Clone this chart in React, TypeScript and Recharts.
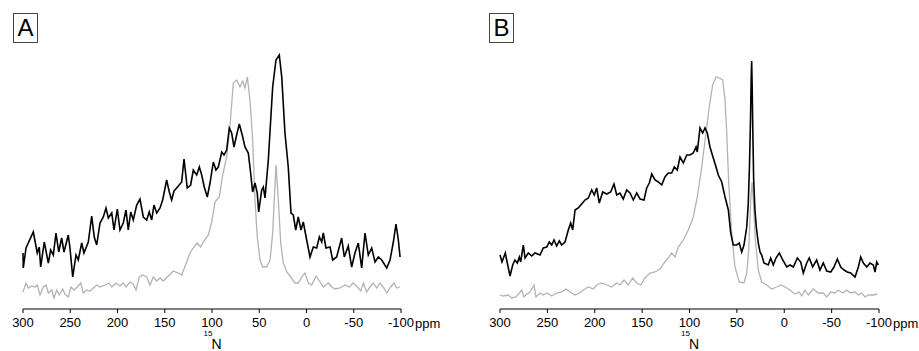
import { LineChart, Line, XAxis, YAxis } from 'recharts'

type Pt = [number, number]

// ppm ticks shared by both spectra
const ppmTicks = [300, 250, 200, 150, 100, 50, 0, -50, -100]

// panel A: black spectrum, [ppm, intensity]
const aBlack: Pt[] = [
  [300, 56], [299.7, 41], [296.8, 61], [289.1, 77], [284.9, 56], [282.8, 62], [281.3, 42], [277.5, 67],
  [273.2, 46], [270.7, 59], [267.9, 54], [265.1, 76], [262.2, 57], [259.1, 71], [256.6, 57], [252.1, 74],
  [250.3, 61], [247.4, 32], [243.9, 54], [241.5, 49], [237.9, 66], [235.5, 56], [230.9, 67], [227.3, 93],
  [224.6, 72], [222, 64], [218.5, 86], [215, 92], [212.2, 101], [209.7, 91], [206.1, 96], [203.7, 79],
  [200.2, 100], [197.4, 79], [193.9, 86], [191, 99], [188.6, 79], [186, 97], [183.3, 89], [179.7, 104],
  [176.2, 110], [172.7, 92], [169.1, 89], [166.4, 97], [163.8, 89], [161.4, 104], [158.5, 96], [155, 101],
  [152.2, 109], [148, 129], [145.2, 117], [142.7, 109], [140.2, 118], [137.4, 121], [132.1, 127], [129.6, 150],
  [126.2, 121], [122.6, 124], [119.8, 139], [116.2, 134], [113.4, 142], [110.9, 134], [108.2, 122], [105, 112],
  [102.1, 126], [98.6, 147], [95.8, 139], [93.3, 142], [89.7, 157], [87.3, 154], [84.5, 159], [81.7, 181],
  [79.2, 176], [76.7, 162], [73.9, 174], [71.1, 185], [68, 174], [65.1, 162], [61.6, 156], [59.1, 136],
  [57, 117], [54.5, 126], [52.1, 116], [50.6, 97], [47.4, 119], [45.7, 122], [43.9, 111], [40.4, 149],
  [35.8, 222], [32.3, 249], [28.8, 254], [26.2, 232], [22.8, 176], [19.3, 142], [16.4, 96], [14, 94],
  [11.4, 79], [8.7, 92], [5.8, 79], [3.4, 87], [-0.2, 69], [-3.7, 52], [-7.2, 62], [-10.8, 61],
  [-13.6, 72], [-16.1, 67], [-17.8, 76], [-20.6, 61], [-24.9, 62], [-27.7, 49], [-31.9, 52], [-37.2, 71],
  [-40, 52], [-44.2, 63], [-47.8, 42], [-51.3, 56], [-54.8, 66], [-58.4, 41], [-61.9, 76], [-65.4, 54],
  [-69, 61], [-72.5, 47], [-76, 52], [-79.6, 49], [-84.9, 41], [-88.4, 49], [-91.9, 67], [-94.7, 85],
  [-97.2, 69], [-99, 52],
]

// panel A: grey spectrum
const aGrey: Pt[] = [
  [300, 17], [296.8, 26], [294.4, 21], [290.8, 23], [287.3, 22], [284.9, 24], [282, 14], [278.5, 22],
  [275.7, 24], [273.2, 16], [269.6, 19], [267.2, 11], [264.3, 19], [261.6, 14], [258, 20], [255.6, 15],
  [252.1, 12], [249.2, 22], [246, 19], [242.5, 22], [238.9, 26], [236.2, 16], [232.6, 19], [229.1, 18],
  [222, 24], [218.5, 22], [213.2, 24], [208.7, 26], [206.1, 22], [201.6, 26], [197.4, 23], [193.9, 26],
  [191, 22], [186.8, 27], [183.3, 25], [180.4, 19], [176.9, 32], [173.3, 34], [169.1, 32], [165.6, 24],
  [162.1, 32], [158.5, 28], [155, 31], [151.5, 28], [146.2, 33], [140.9, 38], [135.7, 36], [132.1, 34],
  [126.8, 47], [123.3, 56], [119.1, 62], [115.6, 66], [112, 62], [109.2, 67], [103.9, 74], [100.3, 87],
  [96.8, 107], [92.3, 112], [88.7, 134], [84.5, 152], [81, 182], [77.5, 226], [73.9, 229], [70.4, 222],
  [67.5, 228], [65.1, 221], [62.6, 232], [59.8, 209], [57, 169], [54.5, 109], [52.1, 72], [49.2, 49],
  [46.4, 42], [42.1, 42], [38.6, 49], [35.8, 76], [32.3, 144], [29.8, 109], [27.3, 66], [24.5, 46],
  [20.9, 37], [16.7, 32], [12.2, 26], [8.7, 26], [5.1, 32], [1.6, 36], [-1.9, 26], [-5.5, 24],
  [-10.1, 33], [-14.3, 27], [-17.8, 22], [-23.1, 26], [-26.7, 22], [-30.2, 20], [-35.4, 21], [-40.7, 24],
  [-45.3, 22], [-49.5, 26], [-53.8, 22], [-57.4, 18], [-60.1, 26], [-63.7, 17], [-67.2, 22], [-70.7, 26],
  [-74.3, 21], [-77.8, 26], [-81.3, 22], [-84.9, 16], [-89.1, 22], [-92.6, 26], [-95.4, 21], [-98.9, 22],
]

// panel B: black spectrum
const bBlack: Pt[] = [
  [300, 54], [297.9, 47], [294.4, 56], [292.3, 46], [289.4, 33], [286.6, 44], [284.2, 49], [281.7, 46],
  [279.6, 52], [278.2, 47], [275.4, 64], [273.6, 51], [270.1, 56], [266.5, 53], [263.1, 56], [257.8, 54],
  [254.3, 61], [250.7, 62], [248, 67], [245.4, 64], [243, 69], [240.2, 63], [237.4, 68], [234.9, 64],
  [231.4, 67], [227.9, 79], [225.4, 86], [223.3, 79], [220.8, 99], [217.4, 101], [213.8, 105], [210.3, 109],
  [206.8, 111], [203.2, 119], [200.5, 114], [198, 121], [195.2, 106], [191.6, 117], [187.4, 115], [183.2, 117],
  [179.7, 125], [176.8, 114], [173.4, 116], [169.9, 110], [166.3, 119], [162.8, 116], [159.3, 109], [155.7, 116],
  [152.2, 110], [148, 109], [145.2, 121], [142.4, 126], [139.9, 135], [136.4, 129], [132.9, 127], [129.3, 124],
  [125.9, 132], [122.4, 136], [118.8, 136], [116, 142], [112.9, 139], [110, 152], [106.5, 146], [102.9, 154],
  [99.5, 154], [96, 156], [93.1, 162], [91.8, 157], [88.9, 181], [86.1, 176], [83.6, 181], [81.2, 176],
  [78.4, 162], [74.9, 151], [72, 142], [69.6, 134], [66, 127], [62.5, 112], [59, 99], [56.5, 76],
  [53.8, 64], [50.2, 64], [47.5, 66], [44.9, 57], [42.5, 64], [39.6, 82], [38, 105], [36.8, 140],
  [35.6, 190], [34.9, 230], [34.4, 248], [33.9, 225], [33.2, 180], [32.3, 130], [31, 100], [29.5, 82],
  [27.4, 66], [25.6, 57], [23.8, 54], [21.4, 46], [16.9, 44], [14.3, 51], [11.6, 44], [8.7, 51],
  [5.2, 56], [1.6, 49], [-2.6, 42], [-6.1, 44], [-9.6, 42], [-13.8, 51], [-17.4, 47], [-20.1, 36],
  [-23.7, 46], [-26.4, 51], [-30, 42], [-34.2, 49], [-37.7, 39], [-41.2, 46], [-44.8, 38], [-49, 37],
  [-52.5, 42], [-56, 50], [-59.6, 42], [-63.1, 39], [-66.5, 37], [-70.1, 36], [-74.7, 32], [-78.2, 42],
  [-80.7, 52], [-83.5, 46], [-87.1, 42], [-90.5, 46], [-94, 44], [-95.8, 37], [-97.6, 47], [-99.3, 44],
]

// panel B: grey spectrum
const bGrey: Pt[] = [
  [300, 14], [296.5, 13], [291.2, 14], [287.7, 11], [283.1, 12], [279.6, 16], [277.1, 19], [274.7, 12],
  [271.8, 15], [268.3, 17], [264.1, 24], [262, 12], [257.8, 16], [254.3, 14], [250.1, 16], [245.4, 13],
  [240.2, 16], [234.9, 17], [230.3, 20], [226.1, 17], [220.8, 14], [216.3, 16], [212.1, 19], [206.8, 22],
  [201.5, 20], [198, 24], [192.7, 26], [187.4, 24], [182.1, 22], [176.8, 26], [173.4, 24], [169.1, 29],
  [164.6, 24], [160, 31], [155.7, 26], [151.5, 24], [147, 31], [141.7, 36], [136.4, 37], [131.1, 40],
  [126.9, 46], [122.4, 51], [118.8, 56], [115.3, 52], [111.8, 62], [106.5, 69], [101.3, 79], [96, 92],
  [91.8, 112], [87.1, 142], [82.6, 176], [79.1, 202], [75.6, 224], [72, 232], [68.5, 231], [65, 229],
  [62.5, 209], [60.7, 176], [58.6, 126], [55.5, 76], [52, 42], [47.5, 27], [42.5, 26], [39.6, 36],
  [37.5, 59], [35.4, 109], [34, 127], [32.7, 109], [30.5, 69], [27.4, 39], [23.8, 27], [18.5, 24],
  [13.3, 20], [8, 22], [3.8, 24], [-0.8, 22], [-6.1, 19], [-11.3, 15], [-15.9, 17], [-18.4, 13],
  [-21.9, 19], [-25.4, 14], [-30.6, 20], [-35.9, 16], [-41.2, 16], [-44.8, 12], [-49, 17], [-53.6, 16],
  [-57, 19], [-61.7, 16], [-65.9, 19], [-70.1, 16], [-74.7, 17], [-78.2, 14], [-81.7, 16], [-85.2, 12],
  [-88.7, 14], [-94, 14], [-98.2, 15],
]

const toRows = (pts: Pt[]) => pts.map(([ppm, v]) => ({ ppm, v }))

const FONT = '"Liberation Sans", Arial, Helvetica, sans-serif'

interface PanelProps {
  letter: string
  black: Pt[]
  grey: Pt[]
  left: number
  margin: { top: number; right: number; left: number; bottom: number }
}

function Panel({ letter, black, grey, left, margin }: PanelProps) {
  const plotRight = 460 - margin.right
  const nMid = margin.left + (plotRight - margin.left) * 0.475
  return (
    <div style={{ position: 'absolute', left, top: 0, width: 460, height: 351 }}>
      <LineChart width={460} height={351} margin={margin}>
        <XAxis
          type="number"
          dataKey="ppm"
          domain={[-100, 300]}
          reversed
          ticks={ppmTicks}
          interval={0}
          height={30}
          tickSize={4}
          tickMargin={5}
          stroke="#000"
          tick={{ fill: '#000', fontSize: 13, fontFamily: FONT }}
          allowDuplicatedCategory={false}
        />
        <YAxis hide domain={[0, 270]} />
        <Line data={toRows(grey)} dataKey="v" type="linear" dot={false} stroke="#b3b3b3"
          strokeWidth={1.3} isAnimationActive={false} />
        <Line data={toRows(black)} dataKey="v" type="linear" dot={false} stroke="#000"
          strokeWidth={1.6} isAnimationActive={false} />
      </LineChart>
      <div style={{
        position: 'absolute', left: left === 0 ? 13 : 29, top: 13, width: 25, height: 30,
        boxSizing: 'border-box', border: '1px solid #444', fontFamily: FONT, fontSize: 24,
        lineHeight: '28px', textAlign: 'center', color: '#000',
      }}>{letter}</div>
      <div style={{
        position: 'absolute', left: plotRight + 14, top: 317, fontFamily: FONT, fontSize: 13,
        lineHeight: '13px', color: '#000',
      }}>ppm</div>
      <div style={{ position: 'absolute', left: nMid + 1, top: 330, fontFamily: FONT, fontSize: 8, lineHeight: '8px' }}>15</div>
      <div style={{ position: 'absolute', left: nMid + 9, top: 337, fontFamily: FONT, fontSize: 14, lineHeight: '14px' }}>N</div>
    </div>
  )
}

export default function App() {
  return (
    <div style={{ position: 'absolute', left: 0, top: 0, width: 919, height: 351, background: '#fff' }}>
      <Panel letter="A" black={aBlack} grey={aGrey} left={0}
        margin={{ top: 39, right: 59, left: 23, bottom: 12 }} />
      <Panel letter="B" black={bBlack} grey={bGrey} left={460}
        margin={{ top: 39, right: 41, left: 40, bottom: 12 }} />
    </div>
  )
}
